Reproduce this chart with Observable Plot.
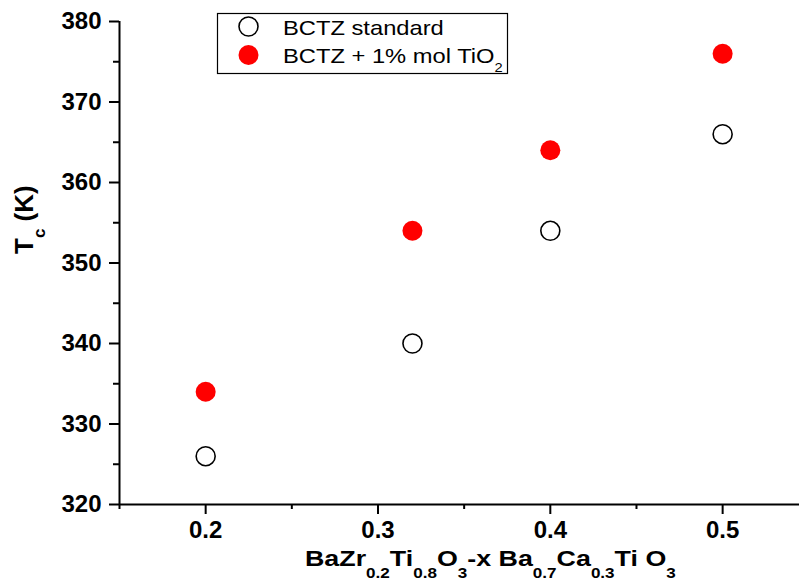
<!DOCTYPE html>
<html>
<head>
<meta charset="utf-8">
<script src="https://cdn.jsdelivr.net/npm/d3@7"></script>
<script src="https://cdn.jsdelivr.net/npm/@observablehq/plot@0.6"></script>
<style>
  html, body { margin: 0; padding: 0; background: #fff; }
  #chart svg { display: block; }
</style>
</head>
<body>
<div id="chart"></div>
<script>
// Data
const compositions = [0.2, 0.32, 0.4, 0.5];
const tcStandard = [326, 340, 354, 366];
const tcTiO2 = [334, 354, 364, 376];
const seriesNames = ["BCTZ standard", "BCTZ + 1% mol TiO"];
const xMajorTicks = [0.2, 0.3, 0.4, 0.5];
const xMinorTicks = [0.15, 0.25, 0.35, 0.45];
const yMajorTicks = [320, 330, 340, 350, 360, 370, 380];
const yMinorTicks = [325, 335, 345, 355, 365, 375];

const standardData = compositions.map((x, i) => ({x, y: tcStandard[i]}));
const tio2Data = compositions.map((x, i) => ({x, y: tcTiO2[i]}));

const FONT = "'Liberation Sans', Arial, Helvetica, sans-serif";

const plot = Plot.plot({
  width: 799,
  height: 583,
  marginLeft: 119,
  marginRight: 0,
  marginTop: 21,
  marginBottom: 79,
  style: {fontFamily: FONT, fontSize: "24px", fontWeight: "bold", background: "#fff", color: "#000"},
  x: {domain: [0.15, 0.5446]},
  y: {domain: [320, 380]},
  marks: [
    Plot.axisX({ticks: xMajorTicks, tickSize: 10, tickPadding: 6, strokeWidth: 2, tickFormat: d => d.toFixed(1), label: null, fontSize: 24, fontWeight: "bold"}),
    Plot.axisX({ticks: xMinorTicks, tickSize: 5, strokeWidth: 2, tickFormat: () => "", label: null}),
    Plot.axisY({ticks: yMajorTicks, tickSize: 10, tickPadding: 8, strokeWidth: 2, tickFormat: d => String(d), label: null, fontSize: 24, fontWeight: "bold"}),
    Plot.axisY({ticks: yMinorTicks, tickSize: 6, strokeWidth: 2, tickFormat: () => "", label: null}),
    Plot.ruleX([0.15], {y1: 320, y2: 380, strokeWidth: 2}),
    Plot.ruleY([320], {strokeWidth: 2}),
    Plot.dot(standardData, {x: "x", y: "y", r: 9.5, stroke: "#000", strokeWidth: 1.6, fill: "none"}),
    Plot.dot(tio2Data, {x: "x", y: "y", r: 10, fill: "#ff0000", stroke: "none"})
  ]
});

document.getElementById("chart").appendChild(plot);

const svg = d3.select(plot);

// Legend
const lg = svg.append("g").attr("font-family", FONT).attr("font-weight", "normal").attr("text-anchor", "start");
lg.append("rect").attr("x", 217.5).attr("y", 13.5).attr("width", 290).attr("height", 60)
  .attr("fill", "#fff").attr("stroke", "#000").attr("stroke-width", 1.2);
lg.append("circle").attr("cx", 248.5).attr("cy", 26.5).attr("r", 9.5)
  .attr("fill", "none").attr("stroke", "#000").attr("stroke-width", 1.6);
lg.append("circle").attr("cx", 248.5).attr("cy", 55).attr("r", 10).attr("fill", "#ff0000");
lg.append("text").attr("transform", "translate(283,35) scale(1.13,1)").attr("font-size", 21).text(seriesNames[0]);
const t2 = lg.append("text").attr("transform", "translate(283,63) scale(1.13,1)").attr("font-size", 21);
t2.append("tspan").text(seriesNames[1]);
t2.append("tspan").attr("font-size", 13).attr("dy", 9).text("2");

// Y axis title: T_c (K)
const yt = svg.append("text").attr("font-family", FONT).attr("font-weight", "bold").attr("font-size", 26)
  .attr("text-anchor", "start")
  .attr("transform", "translate(33,254) rotate(-90)");
yt.append("tspan").text("T");
yt.append("tspan").attr("font-size", 17).attr("dy", 12).text("c");
yt.append("tspan").attr("dy", -12).text(" (K)");

// X axis title
const xt = svg.append("text").attr("font-family", FONT).attr("font-weight", "bold").attr("font-size", 22)
  .attr("text-anchor", "start")
  .attr("transform", "translate(305,566) scale(1.22,1)");
const parts = [["BaZr", false], ["0.2", true], ["Ti", false], ["0.8", true], ["O", false], ["3", true],
  ["-x Ba", false], ["0.7", true], ["Ca", false], ["0.3", true], ["Ti O", false], ["3", true]];
let sub = false;
for (const [s, isSub] of parts) {
  const dy = isSub && !sub ? 12 : (!isSub && sub ? -12 : 0);
  xt.append("tspan").attr("font-size", isSub ? 14 : 22).attr("dy", dy).text(s);
  sub = isSub;
}
</script>
</body>
</html>
